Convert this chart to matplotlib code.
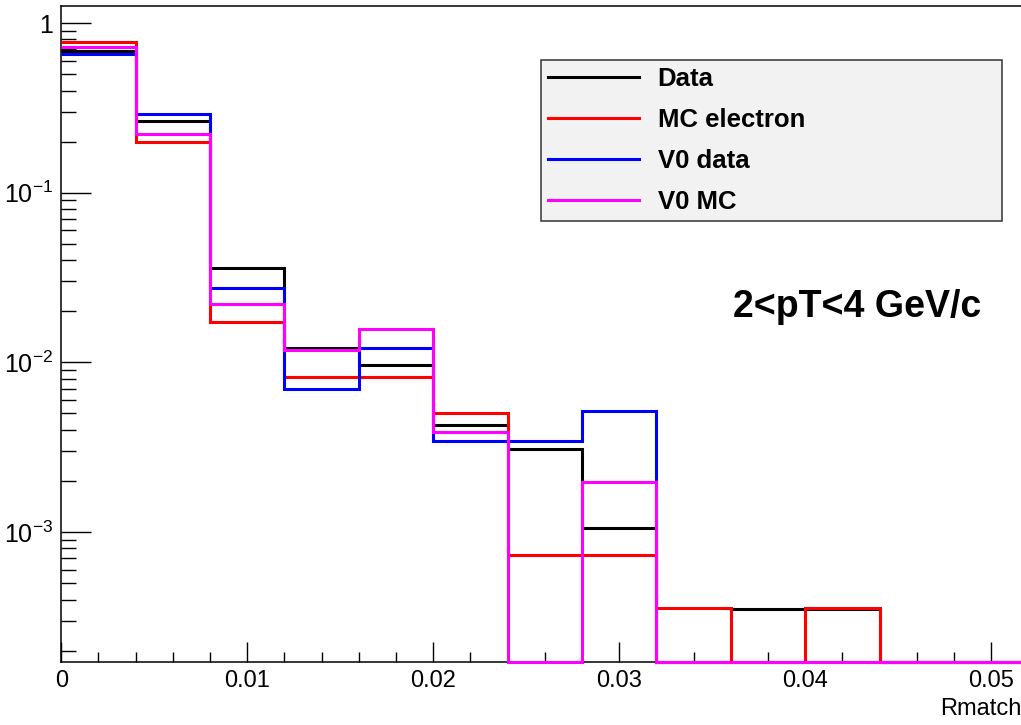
import numpy as np
import matplotlib.pyplot as plt
from matplotlib.lines import Line2D
from matplotlib.ticker import MultipleLocator, LogLocator, NullFormatter

plt.rcParams['font.family'] = ['Liberation Sans', 'DejaVu Sans']
plt.rcParams['mathtext.fontset'] = 'custom'
plt.rcParams['mathtext.rm'] = 'Liberation Sans'

# Rmatch histograms, bin width 0.004 (0 = empty bin)
bin_edges = np.round(np.arange(0, 0.0521, 0.004), 3)
data = [0.685, 0.263, 0.036, 0.0122, 0.0096, 0.0043, 0.0031, 0.00105, 0, 0.00035, 0.00035, 0, 0]
mc_electron = [0.774, 0.200, 0.0172, 0.0082, 0.0082, 0.00505, 0.00073, 0.00073, 0.000357, 0, 0.000357, 0, 0]
v0_data = [0.66, 0.289, 0.0275, 0.0070, 0.0121, 0.00345, 0.00345, 0.00517, 0, 0, 0, 0, 0]
v0_mc = [0.72, 0.223, 0.022, 0.0119, 0.0157, 0.0039, 0, 0.00196, 0, 0, 0, 0, 0]

labels = ['Data', 'MC electron', 'V0 data', 'V0 MC']
colors = ['black', 'red', 'blue', 'magenta']

ymin, ymax = 1.72e-4, 1.26

fig = plt.figure(figsize=(10.21, 7.25), dpi=100)
ax = fig.add_axes([61.3 / 1021, (725 - 661.7) / 725, 1 - 61.3 / 1021, (661.7 - 6) / 725])

for vals, col in zip([data, mc_electron, v0_data, v0_mc], colors):
    vals = np.asarray(vals)
    # empty bins sit on the axis floor, like ROOT does on a log scale
    shown = np.where(vals > 0, vals, ymin)
    ax.stairs(shown, bin_edges, baseline=None, color=col, lw=2.2,
              clip_on=False, zorder=3)

ax.set_yscale('log')
ax.set_ylim(ymin, ymax)
ax.set_xlim(0, 0.0516)

ax.set_yticks([1e-3, 1e-2, 1e-1, 1],
              labels=[r'$\mathdefault{10^{-3}}$', r'$\mathdefault{10^{-2}}$',
                      r'$\mathdefault{10^{-1}}$', '1'])
ax.yaxis.set_minor_locator(LogLocator(base=10, subs=np.arange(2, 10)))
ax.yaxis.set_minor_formatter(NullFormatter())

ax.set_xticks([0, 0.01, 0.02, 0.03, 0.04, 0.05], labels=['0', '0.01', '0.02', '0.03', '0.04', '0.05'])
ax.xaxis.set_minor_locator(MultipleLocator(0.002))

ax.tick_params(axis='y', which='major', direction='in', length=21.6, width=1, labelsize=18, pad=6)
ax.tick_params(axis='y', which='minor', direction='in', length=10.8, width=1)
ax.tick_params(axis='x', which='major', direction='in', length=14.4, width=1, labelsize=17, pad=6)
ax.tick_params(axis='x', which='minor', direction='in', length=7.2, width=1)

ax.spines['right'].set_visible(False)
for s in ['left', 'bottom', 'top']:
    ax.spines[s].set_linewidth(1.1)

ax.set_xlabel('Rmatch', fontsize=17, ha='right')
ax.xaxis.set_label_coords(1.0, -0.055)

handles = [Line2D([], [], color=c, lw=2.2) for c in colors]
leg = ax.legend(handles, labels, loc='upper left',
                bbox_to_anchor=(540.7 / 1021, 1 - 223 / 725, 461 / 1021, 163 / 725),
                bbox_transform=fig.transFigure, mode='expand', borderaxespad=0,
                prop={'weight': 'bold', 'size': 18.5}, borderpad=0.28,
                labelspacing=0.66, handlelength=3.55, handletextpad=0.72,
                fancybox=False, framealpha=1, facecolor='#f2f2f2', edgecolor='#333333')
leg.get_frame().set_linewidth(1.1)

fig.text(857 / 1021, 1 - 317 / 725, '2<pT<4 GeV/c', fontsize=27, fontweight='bold',
         ha='center', va='baseline')

fig.savefig('out.png', dpi=100)
